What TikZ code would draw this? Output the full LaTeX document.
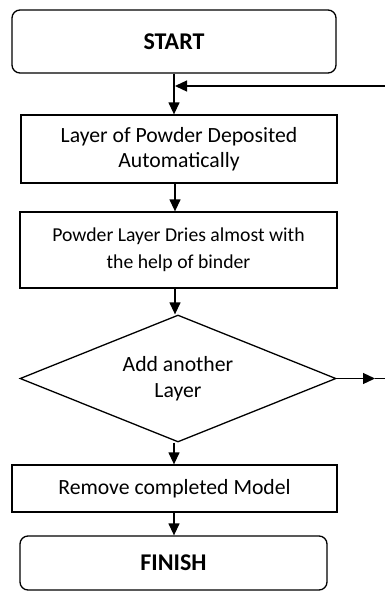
\documentclass[tikz,border=0pt]{standalone}
\usepackage{fontspec}
\setmainfont{Carlito}
\usetikzlibrary{shapes.geometric,arrows.meta}
\begin{document}
\begin{tikzpicture}[x=1pt,y=-1pt,
  line width=1.3pt,
  term/.style={draw,rounded corners=8pt,inner sep=0pt,font=\fontsize{24}{28}\selectfont\bfseries},
  proc/.style={draw,inner sep=0pt,align=center,font=\fontsize{21.7}{25}\selectfont},
  dec/.style={draw,diamond,inner sep=0pt,align=center,font=\fontsize{21.7}{26}\selectfont},
  arr/.style={-{Triangle[length=12pt,width=11pt]}}]
\useasboundingbox (0,0) rectangle (385,592);
\node[term,minimum width=324pt,minimum height=63pt] (start) at (174,41.5) {START};
\node[proc,minimum width=316pt,minimum height=68pt] (dep) at (179,149) {Layer of Powder Deposited\\Automatically};
\node[proc,minimum width=317pt,minimum height=76pt,font=\fontsize{19.7}{27}\selectfont] (dry) at (178.5,250) {Powder Layer Dries almost with\\the help of binder};
\node[dec,minimum width=316pt,minimum height=127pt,aspect=2.49] (add) at (178,378.5) {Add another\\Layer};
\node[proc,minimum width=325pt,minimum height=47pt] (rem) at (174.5,488.5) {Remove completed Model};
\node[term,minimum width=307pt,minimum height=54pt] (fin) at (173.5,563) {FINISH};
\coordinate (c1) at (174,0);
\coordinate (c2) at (175,0);
\coordinate (fb) at (385,86);
\coordinate (rt) at (375,378.5);
\coordinate (re) at (385,378.5);
\draw[arr] (start.south -| c1) -- (dep.north -| c1);
\draw[arr] (fb) -- (175,86);
\draw[arr] (dep.south -| c2) -- (dry.north -| c2);
\draw[arr] (dry.south -| c2) -- (add.north -| c2);
\draw[arr] (add.south -| c1) -- (rem.north -| c1);
\draw[arr] (rem.south -| c1) -- (fin.north -| c1);
\draw[arr] (add.east) -- (rt);
\draw (rt) -- (re);
\end{tikzpicture}
\end{document}
